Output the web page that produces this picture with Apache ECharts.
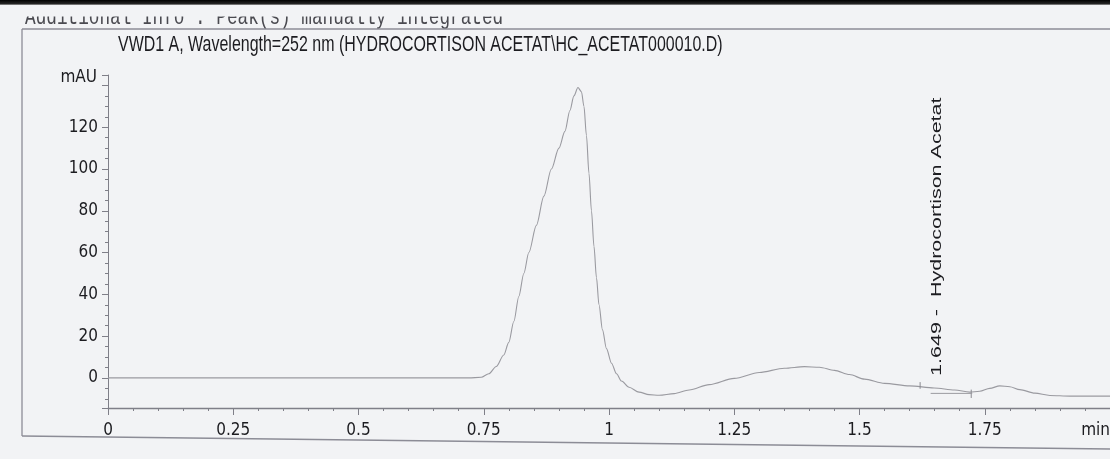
<!DOCTYPE html>
<html><head><meta charset="utf-8">
<script src="https://cdn.jsdelivr.net/npm/echarts@6/dist/echarts.min.js"></script>
<style>html,body{margin:0;padding:0;background:#f2f3f5}#c{width:1110px;height:459px}</style>
</head><body><div id="c"></div>
<script>
// ---- data ----
const headerText = 'Additional Info : Peak(s) manually integrated';
const titleText = 'VWD1 A, Wavelength=252 nm (HYDROCORTISON ACETAT\\HC_ACETAT000010.D)';
const peakLabel = '1.649 -  Hydrocortison Acetat';
const peakTime = 1.649;
const yUnit = 'mAU';
const xUnit = 'min';
const yTickValues = [0, 20, 40, 60, 80, 100, 120];
const xTickValues = [0, 0.25, 0.5, 0.75, 1, 1.25, 1.5, 1.75, 2];

const times = [0, 0.25, 0.5, 0.72, 0.745, 0.76, 0.775, 0.79, 0.80, 0.81, 0.82, 0.83, 0.84, 0.855, 0.87, 0.885, 0.90, 0.912, 0.922, 0.93, 0.938, 0.945, 0.95, 0.955, 0.96, 0.965, 0.97, 0.975, 0.98, 0.987, 0.995, 1.005, 1.015, 1.025, 1.04, 1.06, 1.08, 1.10, 1.13, 1.16, 1.20, 1.25, 1.30, 1.35, 1.39, 1.42, 1.45, 1.48, 1.51, 1.55, 1.60, 1.649, 1.69, 1.72, 1.74, 1.76, 1.78, 1.80, 1.82, 1.85, 1.88, 1.92, 2.0];
const signal = [0, 0, 0, 0, 0.3, 2, 5.5, 11, 17, 27, 39, 50, 60, 73, 87, 100, 110, 118, 128, 135, 139, 137, 130, 116, 98, 80, 63, 48, 35, 23, 14, 7, 2, -1.5, -4.5, -6.8, -8, -8.3, -7.5, -5.8, -3.2, -0.2, 2.6, 4.6, 5.4, 5.1, 3.6, 1.6, -0.6, -2.6, -3.8, -4.8, -5.8, -6.8, -6.4, -5, -3.8, -4.2, -5.6, -7.3, -8.4, -8.7, -8.7];

const startTick = [[1.621, -2.0], [1.621, -5.2]];
const endTick = [[1.723, -5.6], [1.723, -9.6]];
const integBase = [[1.642, -7.4], [1.725, -7.4]];

// ---- chart ----
const chart = echarts.init(document.getElementById('c'), null, {renderer: 'canvas'});
const narrow = "'Liberation Sans Narrow', 'DejaVu Sans Condensed', 'Liberation Sans', Arial, sans-serif";
const axisCol = '#7f7f88';
const labCol = '#1c1c20';
const fmtY = v => (yTickValues.indexOf(Math.round(v * 1000) / 1000) >= 0 ? String(Math.round(v)) : '');
const fmtX = v => {
  const r = Math.round(v * 1000) / 1000;
  if (r === xTickValues[xTickValues.length - 1]) return xUnit;
  return xTickValues.indexOf(r) >= 0 ? String(r) : '';
};

const option = {
  animation: false,
  backgroundColor: '#f2f3f5',
  grid: {left: 108, right: 0, top: 75, bottom: 51, outerBoundsMode: 'none', containLabel: false},
  xAxis: {
    type: 'value', min: 0, max: 2, interval: 0.25,
    axisLine: {show: true, onZero: false, lineStyle: {color: axisCol, width: 1.3}},
    axisTick: {show: true, length: 7, lineStyle: {color: axisCol}},
    minorTick: {show: true, splitNumber: 5, length: 3, lineStyle: {color: axisCol}},
    splitLine: {show: false}, minorSplitLine: {show: false},
    axisLabel: {margin: 14, fontFamily: narrow, fontSize: 17, color: labCol, formatter: fmtX, alignMaxLabel: 'right'}
  },
  yAxis: {
    type: 'value', min: -14.4, max: 145, splitNumber: 8,
    name: yUnit, nameLocation: 'end', nameGap: -3,
    nameTextStyle: {fontFamily: narrow, fontSize: 17, color: labCol, align: 'right', verticalAlign: 'middle', padding: [0, 11, 0, 0]},
    axisLine: {show: true, onZero: false, lineStyle: {color: axisCol, width: 1}},
    axisTick: {show: true, length: 6, lineStyle: {color: axisCol}},
    minorTick: {show: true, splitNumber: 4, length: 3, lineStyle: {color: axisCol}},
    splitLine: {show: false}, minorSplitLine: {show: false},
    axisLabel: {margin: 10, fontFamily: narrow, fontSize: 17, color: labCol, formatter: fmtY, showMinLabel: false, showMaxLabel: false}
  },
  series: [
    {type: 'line', data: times.map((t, i) => [t, signal[i]]), showSymbol: false, smooth: 0.3, smoothMonotone: 'x',
     lineStyle: {color: '#9a9aa0', width: 1.1}, silent: true},
    {type: 'line', data: startTick, showSymbol: false, lineStyle: {color: '#8a8a90', width: 1}, silent: true},
    {type: 'line', data: endTick, showSymbol: false, lineStyle: {color: '#8a8a90', width: 1}, silent: true},
    {type: 'line', data: integBase, showSymbol: false, lineStyle: {color: '#9a9aa0', width: 1}, silent: true}
  ],
  graphic: [
    {type: 'text', id: 'hdr', x: 25, y: 30, scaleX: 0.72, z: 1,
     style: {text: headerText, x: 0, y: 0, font: "24.6px 'Liberation Mono', 'Courier New', monospace", fill: '#4a4a50', textAlign: 'left', textVerticalAlign: 'bottom'}},
    {type: 'rect', id: 'mask', z: 2, shape: {x: 0, y: 0, width: 1110, height: 16.5}, style: {fill: '#f2f3f5'}},
    {type: 'rect', id: 'bar', z: 3, shape: {x: 0, y: 0, width: 1110, height: 5},
     style: {fill: new echarts.graphic.LinearGradient(0, 0, 0, 1, [{offset: 0, color: '#000'}, {offset: 0.7, color: '#222'}, {offset: 1, color: '#999'}])}},
    {type: 'line', id: 'ftop', z: 4, shape: {x1: 22, y1: 29, x2: 1110, y2: 29}, style: {stroke: '#8c8c96', lineWidth: 1.5}},
    {type: 'line', id: 'fleft', z: 1, shape: {x1: 22, y1: 29, x2: 22, y2: 436}, style: {stroke: '#8c8c96', lineWidth: 1.3}},
    {type: 'line', id: 'fbot', z: 1, shape: {x1: 22, y1: 436, x2: 1110, y2: 449}, style: {stroke: '#8c8c96', lineWidth: 1.5}},
    {type: 'text', id: 'title', x: 118, y: 45, scaleX: 0.726, z: 1,
     style: {text: titleText, x: 0, y: 0, font: "22px 'Liberation Sans', Arial, sans-serif", fill: labCol, textAlign: 'left', textVerticalAlign: 'middle'}}
  ]
};
chart.setOption(option);

// peak annotation anchored to the data position of the peak
const idx = times.indexOf(peakTime);
const p = chart.convertToPixel({seriesIndex: 0}, [peakTime, signal[idx]]);
chart.setOption({graphic: [
  {type: 'text', id: 'peak', x: p[0] + 3, y: p[1] - 12, rotation: Math.PI / 2, scaleY: 0.72, z: 5,
   style: {text: peakLabel, x: 0, y: 0, font: "21.5px 'Liberation Sans', Arial, sans-serif", fill: labCol, textAlign: 'left', textVerticalAlign: 'middle'}}
]});
</script></body></html>
